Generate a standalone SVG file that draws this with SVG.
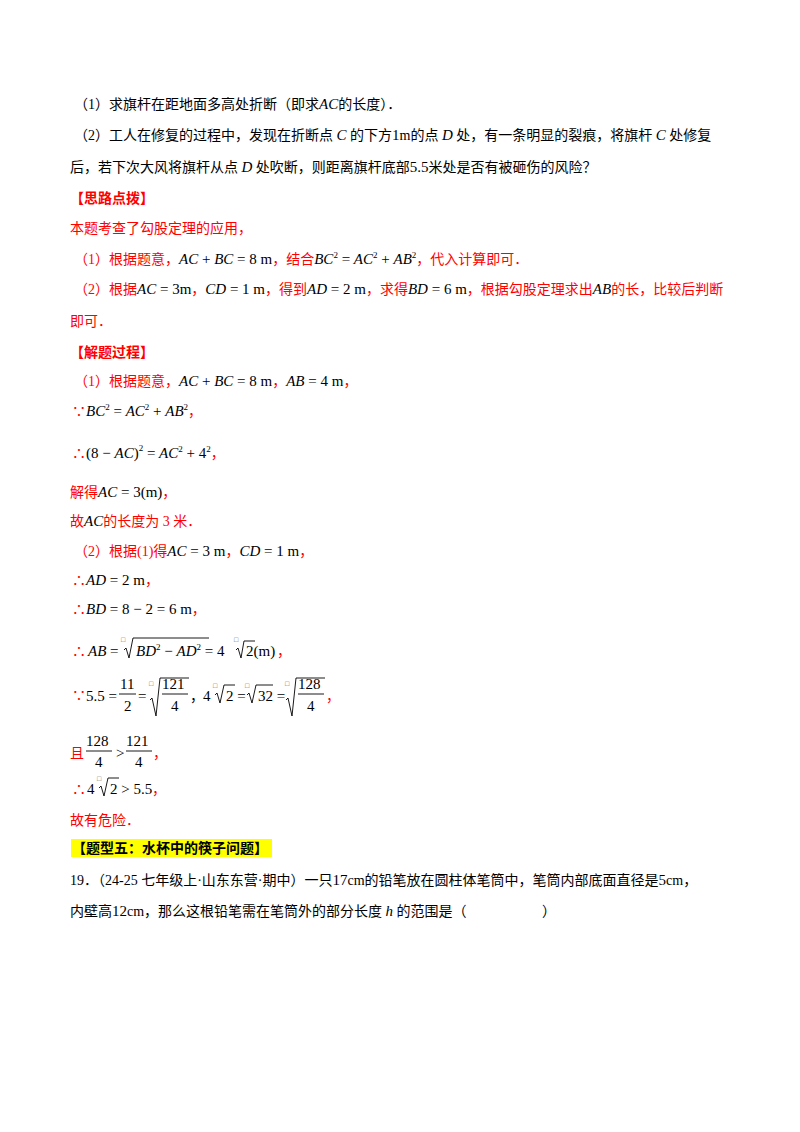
<svg xmlns="http://www.w3.org/2000/svg" width="800" height="1132" viewBox="0 0 800 1132">
<style>
text{font-family:"Liberation Serif","Noto Sans CJK SC",serif;font-size:14px;fill:#000}
.r{fill:#ff0000}
.b{font-weight:bold}
.i{font-style:italic}
.m{font-family:"Liberation Serif",serif;font-size:15px}
.s{font-size:9px}
.q{font-size:7px;fill:#555}
line,.rad{stroke:#000;stroke-width:0.9;fill:none}
</style>
<rect width="800" height="1132" fill="#fff"/>
<g id="question">
<text x="74" y="109">（1）求旗杆在距地面多高处折断（即求<tspan class="i m">AC</tspan>的长度）．</text>
<text x="74" y="140">（2）工人在修复的过程中，发现在折断点 <tspan class="i m">C</tspan> 的下方<tspan class="m">1</tspan>m的点 <tspan class="i m">D</tspan> 处，有一条明显的裂痕，将旗杆 <tspan class="i m">C</tspan> 处修复</text>
<text x="70" y="172">后，若下次大风将旗杆从点 <tspan class="i m">D</tspan> 处吹断，则距离旗杆底部<tspan class="m">5.5</tspan>米处是否有被砸伤的风险？</text>
</g>
<g id="hint">
<text x="70" y="203" class="r b">【思路点拨】</text>
<text x="70" y="233" class="r">本题考查了勾股定理的应用，</text>
<text x="74" y="264" class="r">（1）根据题意，<tspan fill="#000" class="m"><tspan class="i">AC</tspan> + <tspan class="i">BC</tspan> = 8 m</tspan>，结合<tspan fill="#000" class="i m">BC</tspan><tspan fill="#000" class="s" dy="-6">2</tspan><tspan fill="#000" class="m" dy="6"> = </tspan><tspan fill="#000" class="i m">AC</tspan><tspan fill="#000" class="s" dy="-6">2</tspan><tspan fill="#000" class="m" dy="6"> + </tspan><tspan fill="#000" class="i m">AB</tspan><tspan fill="#000" class="s" dy="-6">2</tspan><tspan dy="6">，代入计算即可．</tspan></text>
<text x="74" y="294" class="r">（2）根据<tspan fill="#000" class="m"><tspan class="i">AC</tspan> = 3m</tspan>，<tspan fill="#000" class="m"><tspan class="i">CD</tspan> = 1 m</tspan>，得到<tspan fill="#000" class="m"><tspan class="i">AD</tspan> = 2 m</tspan>，求得<tspan fill="#000" class="m"><tspan class="i">BD</tspan> = 6 m</tspan>，根据勾股定理求出<tspan fill="#000" class="i m">AB</tspan>的长，比较后判断</text>
<text x="70" y="326" class="r">即可．</text>
</g>
<g id="solution">
<text x="70" y="357" class="r b">【解题过程】</text>
<text x="74" y="386" class="r">（1）根据题意，<tspan fill="#000" class="m"><tspan class="i">AC</tspan> + <tspan class="i">BC</tspan> = 8 m</tspan>，<tspan fill="#000" class="m"><tspan class="i">AB</tspan> = 4 m</tspan>，</text>
<text x="72" y="416" class="r">∵<tspan fill="#000" class="i m">BC</tspan><tspan fill="#000" class="s" dy="-6">2</tspan><tspan fill="#000" class="m" dy="6"> = </tspan><tspan fill="#000" class="i m">AC</tspan><tspan fill="#000" class="s" dy="-6">2</tspan><tspan fill="#000" class="m" dy="6"> + </tspan><tspan fill="#000" class="i m">AB</tspan><tspan fill="#000" class="s" dy="-6">2</tspan><tspan dy="6">，</tspan></text>
<text x="72" y="458" class="r">∴<tspan fill="#000" class="m">(8 − <tspan class="i">AC</tspan>)</tspan><tspan fill="#000" class="s" dy="-7">2</tspan><tspan fill="#000" class="m" dy="7"> = </tspan><tspan fill="#000" class="i m">AC</tspan><tspan fill="#000" class="s" dy="-6">2</tspan><tspan fill="#000" class="m" dy="6"> + 4</tspan><tspan fill="#000" class="s" dy="-6">2</tspan><tspan dy="6">，</tspan></text>
<text x="70" y="497" class="r">解得<tspan fill="#000" class="m"><tspan class="i">AC</tspan> = 3(m)</tspan>，</text>
<text x="70" y="526" class="r">故<tspan fill="#000" class="i m">AC</tspan>的长度为 3 米．</text>
<text x="74" y="556" class="r">（2）根据(1)得<tspan fill="#000" class="m"><tspan class="i">AC</tspan> = 3 m</tspan>，<tspan fill="#000" class="m"><tspan class="i">CD</tspan> = 1 m</tspan>，</text>
<text x="72" y="585" class="r">∴<tspan fill="#000" class="m"><tspan class="i">AD</tspan> = 2 m</tspan>，</text>
<text x="72" y="614" class="r">∴<tspan fill="#000" class="m"><tspan class="i">BD</tspan> = 8 − 2 = 6 m</tspan>，</text>
<!-- AB line -->
<text x="72" y="656" class="r">∴</text>
<text x="88" y="656" class="m"><tspan class="i">AB</tspan> =</text>
<text x="121" y="642" class="q">□</text>
<path class="rad" d="M124 650 L126 648 L129 658 L133 638 L209 638"/>
<text x="136" y="656" class="m"><tspan class="i">BD</tspan><tspan class="s" dy="-6">2</tspan><tspan dy="6"> − </tspan><tspan class="i">AD</tspan><tspan class="s" dy="-6">2</tspan><tspan dy="6"> = 4</tspan></text>
<text x="234" y="642" class="q">□</text>
<path class="rad" d="M236 650 L238 648 L241 658 L244 641 L255 641"/>
<text x="246" y="656" class="m">2(m)</text>
<text x="277" y="656" class="r">，</text>
<!-- 5.5 line -->
<text x="72" y="700" class="r">∵</text>
<text x="86" y="701" class="m">5.5 =</text>
<text x="120" y="689" class="m">11</text>
<line x1="119" y1="694" x2="136" y2="694"/>
<text x="124" y="711" class="m">2</text>
<text x="138" y="701" class="m">=</text>
<text x="149" y="686" class="q">□</text>
<path class="rad" d="M150 700 L152 698 L156 716 L160 678 L189 678"/>
<text x="162" y="689" class="m">121</text>
<line x1="162" y1="694" x2="188" y2="694"/>
<text x="171" y="711" class="m">4</text>
<text x="190" y="701">，</text>
<text x="203" y="701" class="m">4</text>
<text x="213" y="688" class="q">□</text>
<path class="rad" d="M215 695 L217 693 L220 703 L224 685 L235 685"/>
<text x="226" y="701" class="m">2 =</text>
<text x="245" y="688" class="q">□</text>
<path class="rad" d="M247 695 L249 693 L252 703 L256 685 L273 685"/>
<text x="258" y="701" class="m">32 =</text>
<text x="285" y="686" class="q">□</text>
<path class="rad" d="M286 700 L288 698 L292 716 L296 678 L325 678"/>
<text x="298" y="689" class="m">128</text>
<line x1="298" y1="694" x2="324" y2="694"/>
<text x="307" y="711" class="m">4</text>
<text x="326" y="701" class="r">，</text>
<!-- 且 line -->
<text x="70" y="758" class="r">且</text>
<text x="86" y="746" class="m">128</text>
<line x1="86" y1="751" x2="112" y2="751"/>
<text x="95" y="767" class="m">4</text>
<text x="116" y="758" class="m">&gt;</text>
<text x="126" y="746" class="m">121</text>
<line x1="126" y1="751" x2="152" y2="751"/>
<text x="135" y="767" class="m">4</text>
<text x="153" y="758" class="r">，</text>
<!-- 4√2 > 5.5 -->
<text x="72" y="794" class="r">∴</text>
<text x="87" y="794" class="m">4</text>
<text x="97" y="781" class="q">□</text>
<path class="rad" d="M99 788 L101 786 L104 796 L108 778 L119 778"/>
<text x="110" y="794" class="m">2 &gt; 5.5</text>
<text x="152" y="794" class="r">，</text>
<text x="70" y="825" class="r">故有危险．</text>
</g>
<g id="next">
<rect x="71" y="839" width="201" height="18" fill="#ffff00"/>
<text x="72" y="853" class="b">【题型五：水杯中的筷子问题】</text>
<text x="70" y="885">19．（24-25 七年级上·山东东营·期中）一只<tspan class="m">17</tspan>cm的铅笔放在圆柱体笔筒中，笔筒内部底面直径是<tspan class="m">5</tspan>cm，</text>
<text x="70" y="916">内壁高<tspan class="m">12</tspan>cm，那么这根铅笔需在笔筒外的部分长度 <tspan class="i m">h</tspan> 的范围是（<tspan x="542">）</tspan></text>
</g>
</svg>
